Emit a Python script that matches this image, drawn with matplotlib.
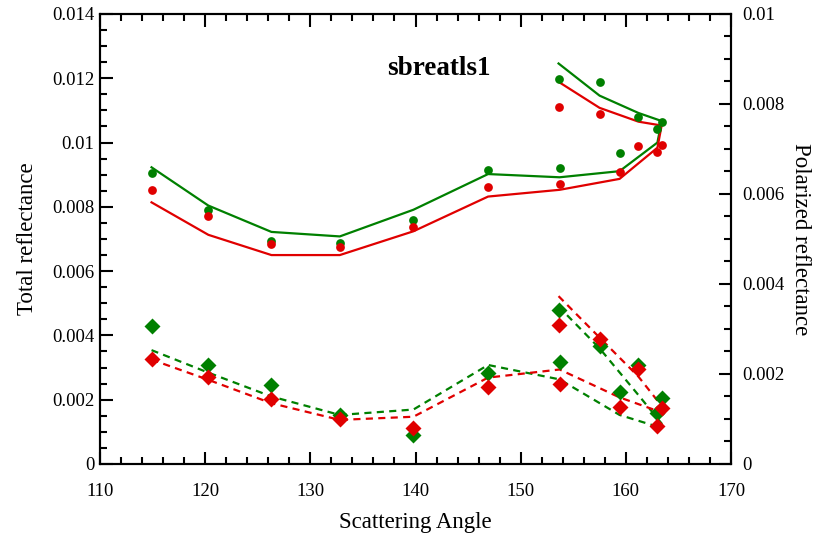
import numpy as np
import matplotlib
matplotlib.use("Agg")
import matplotlib.pyplot as plt
from matplotlib.ticker import MultipleLocator, FuncFormatter

plt.rcParams['font.family'] = ['Liberation Serif', 'DejaVu Serif']

# scattering angles in the order the measurements were taken
angle = [114.9, 120.3, 126.3, 132.8, 139.8, 146.9, 153.7, 159.4, 163.0, 163.4, 161.2, 157.5, 153.6]

# total reflectance: measured (dots) and model (solid)
tot_meas_red = [0.00853, 0.00771, 0.00683, 0.00674, 0.00737, 0.00863, 0.00872, 0.00908, 0.00970, 0.00991, 0.00988, 0.01089, 0.01111]
tot_meas_green = [0.00905, 0.00791, 0.00694, 0.00686, 0.00760, 0.00914, 0.00922, 0.00967, 0.01043, 0.01063, 0.01078, 0.01187, 0.01199]
tot_mod_red = [0.00814, 0.00713, 0.00650, 0.00650, 0.00724, 0.00832, 0.00853, 0.00887, 0.00984, 0.01053, 0.01065, 0.01108, 0.01189]
tot_mod_green = [0.00923, 0.00804, 0.00722, 0.00708, 0.00791, 0.00902, 0.00892, 0.00911, 0.01000, 0.01067, 0.01092, 0.01146, 0.01246]

# polarized reflectance: measured (diamonds) and model (dashed)
pol_meas_red = [0.00234, 0.00193, 0.00144, 0.00101, 0.00080, 0.00170, 0.00178, 0.00126, 0.00085, 0.00124, 0.00211, 0.00278, 0.00308]
pol_meas_green = [0.00306, 0.00221, 0.00175, 0.00108, 0.00065, 0.00202, 0.00226, 0.00161, 0.00113, 0.00147, 0.00221, 0.00263, 0.00343]
pol_mod_red = [0.00232, 0.00187, 0.00135, 0.00098, 0.00105, 0.00192, 0.00210, 0.00148, 0.00118, 0.00129, 0.00194, 0.00281, 0.00373]
pol_mod_green = [0.00253, 0.00203, 0.00150, 0.00109, 0.00121, 0.00220, 0.00188, 0.00109, 0.00083, 0.00090, 0.00153, 0.00257, 0.00350]

RED = '#e00000'
GREEN = '#008000'

fig = plt.figure(figsize=(8.19, 5.34), dpi=100)
ax = fig.add_axes([0.1221, 0.1311, 0.7705, 0.8427])
ax2 = ax.twinx()

ax.plot(angle, tot_mod_green, '-', color=GREEN, lw=1.6)
ax.plot(angle, tot_mod_red, '-', color=RED, lw=1.6)
ax.plot(angle, tot_meas_green, 'o', color=GREEN, ms=6.3, mec='none')
ax.plot(angle, tot_meas_red, 'o', color=RED, ms=6.3, mec='none')

ax2.plot(angle, pol_mod_green, '--', color=GREEN, lw=1.6, dashes=(3.2, 2.4))
ax2.plot(angle, pol_mod_red, '--', color=RED, lw=1.6, dashes=(3.2, 2.4))
ax2.plot(angle, pol_meas_green, 'D', color=GREEN, ms=8.5, mec='none')
ax2.plot(angle, pol_meas_red, 'D', color=RED, ms=8.5, mec='none')

ax.set_xlim(110, 170)
ax.set_ylim(0, 0.014)
ax2.set_ylim(0, 0.01)

fmt = FuncFormatter(lambda v, p: '%g' % round(v, 6))
ax.xaxis.set_major_locator(MultipleLocator(10))
ax.xaxis.set_minor_locator(MultipleLocator(2))
ax.yaxis.set_major_locator(MultipleLocator(0.002))
ax.yaxis.set_minor_locator(MultipleLocator(0.0005))
ax.yaxis.set_major_formatter(fmt)
ax2.yaxis.set_major_locator(MultipleLocator(0.002))
ax2.yaxis.set_minor_locator(MultipleLocator(0.0005))
ax2.yaxis.set_major_formatter(fmt)

ax.tick_params(which='both', direction='in', top=True, width=1.5, labelsize=13.5)
ax.tick_params(which='major', length=9)
ax.tick_params(which='minor', length=5)
ax.tick_params(axis='y', right=False, pad=4)
ax.tick_params(axis='x', pad=14)
ax2.tick_params(which='both', direction='in', width=1.5, labelsize=13.5, pad=8)
ax2.tick_params(which='major', length=9)
ax2.tick_params(which='minor', length=5)

for a in (ax, ax2):
    for s in a.spines.values():
        s.set_linewidth(1.5)

ax.set_xlabel('Scattering Angle', fontsize=16.5, labelpad=8)
ax.set_ylabel('Total reflectance', fontsize=16.5, labelpad=10)
ax2.set_ylabel('Polarized reflectance', fontsize=16.5, rotation=270, labelpad=19)

ax.text(142.2, 0.0121, 'sbreatls1', fontsize=19.5, fontweight='bold', ha='center', va='baseline')

fig.savefig('out.png', dpi=100)
